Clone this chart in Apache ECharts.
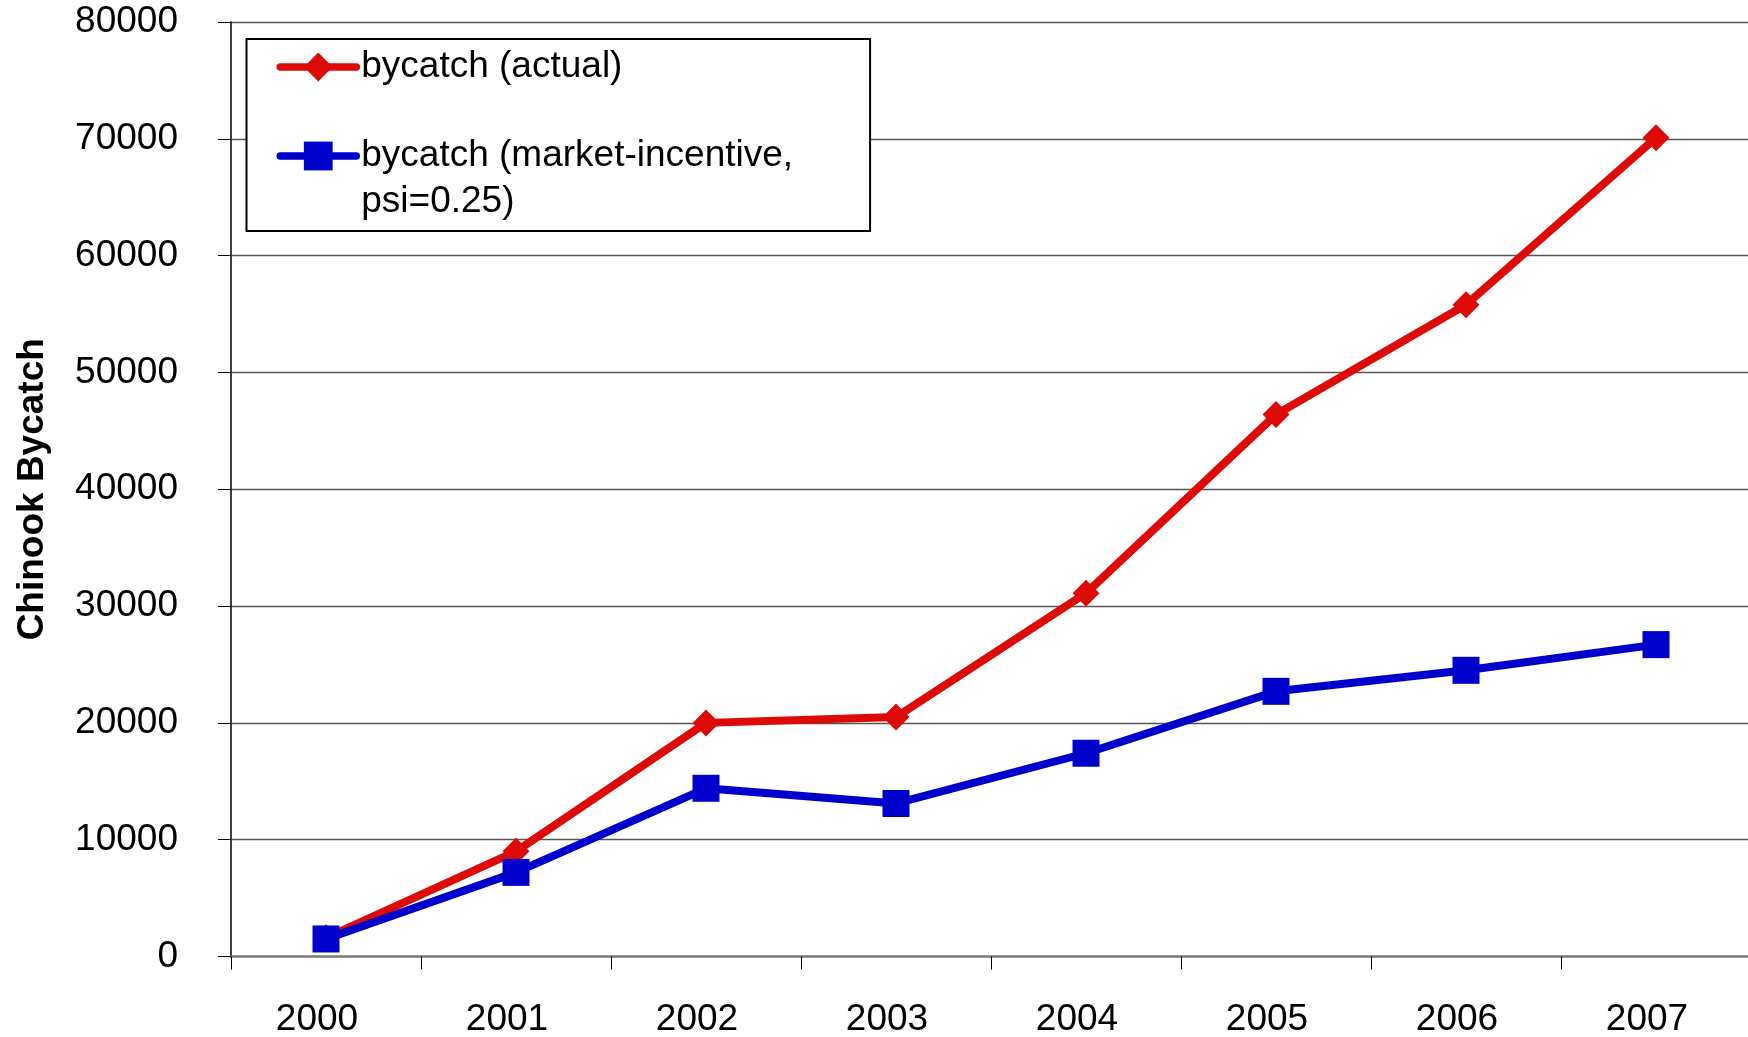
<!DOCTYPE html>
<html>
<head>
<meta charset="utf-8">
<script src="https://cdn.jsdelivr.net/npm/echarts@6/dist/echarts.min.js"></script>
<style>
  html, body { margin: 0; padding: 0; background: #fff; }
  #chart { width: 1748px; height: 1037px; }
</style>
</head>
<body>
<div id="chart"></div>
<script>
const years = ['2000', '2001', '2002', '2003', '2004', '2005', '2006', '2007'];
const actualBycatch = [1600, 9000, 20000, 20500, 31100, 46400, 55800, 70100];
const marketIncentiveBycatch = [1500, 7200, 14400, 13100, 17400, 22700, 24500, 26700];
const seriesNames = ['bycatch (actual)', 'bycatch (market-incentive, psi=0.25)'];
const yAxisName = 'Chinook Bycatch';

const FONT = '"Liberation Sans", Arial, Helvetica, sans-serif';
const RED = '#DD0A08';
const BLUE = '#0000CC';

const chart = echarts.init(document.getElementById('chart'), null, { renderer: 'canvas' });
chart.setOption({
  animation: false,
  backgroundColor: '#ffffff',
  textStyle: { fontFamily: FONT },
  grid: { left: 231, top: 22, width: 1520, height: 934.5, containLabel: false, outerBoundsMode: 'none' },
  legend: {
    orient: 'vertical',
    left: 246.5,
    top: 39,
    padding: [5, 77, 6, 30],
    itemWidth: 76,
    itemHeight: 36,
    itemGap: -3,
    borderColor: '#000',
    borderWidth: 2,
    backgroundColor: '#fff',
    data: seriesNames,
    lineStyle: { width: 7.5, cap: 'round' },
    formatter: function (name) {
      return name === seriesNames[1] ? '\nbycatch (market-incentive,\npsi=0.25)' : name;
    },
    textStyle: { fontFamily: FONT, fontSize: 37, color: '#000', lineHeight: 46 },
    selectedMode: false
  },
  xAxis: {
    type: 'category',
    data: years,
    boundaryGap: true,
    axisLine: { show: true, lineStyle: { color: '#7f7f7f', width: 2.5 } },
    axisTick: { show: true, interval: 0, length: 13, lineStyle: { color: '#000', width: 1 } },
    axisLabel: { fontFamily: FONT, fontSize: 37, color: '#000', margin: 45, padding: [0, 18, 0, 0], interval: 0 },
    splitLine: { show: false }
  },
  yAxis: {
    type: 'value',
    min: 0,
    max: 80000,
    interval: 10000,
    name: yAxisName,
    nameLocation: 'middle',
    nameGap: 180,
    nameTextStyle: { fontFamily: FONT, fontSize: 37, fontWeight: 'bold', color: '#000' },
    axisLine: { show: true, lineStyle: { color: '#000', width: 1.5 } },
    axisTick: { show: true, length: 13, lineStyle: { color: '#000', width: 1 } },
    axisLabel: {
      fontFamily: FONT, fontSize: 37, color: '#000', margin: 53,
      formatter: function (v) { return String(v); }
    },
    splitLine: { show: true, lineStyle: { color: '#555', width: 1.3 } }
  },
  series: [
    {
      name: seriesNames[0],
      type: 'line',
      data: actualBycatch,
      symbol: 'diamond',
      symbolSize: 27,
      showAllSymbol: true,
      lineStyle: { color: RED, width: 8, cap: 'round', join: 'round' },
      itemStyle: { color: RED },
      z: 2
    },
    {
      name: seriesNames[1],
      type: 'line',
      data: marketIncentiveBycatch,
      symbol: 'rect',
      symbolSize: 27,
      showAllSymbol: true,
      lineStyle: { color: BLUE, width: 8, cap: 'round', join: 'round' },
      itemStyle: { color: BLUE },
      z: 3
    }
  ]
});
</script>
</body>
</html>
